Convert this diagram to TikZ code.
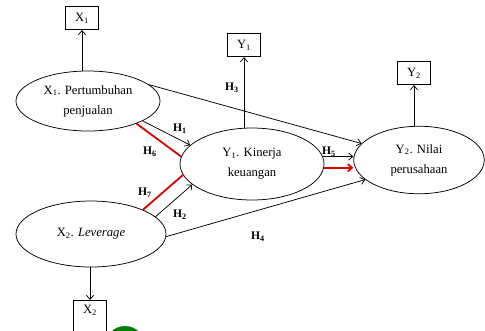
\documentclass[tikz,border=0pt]{standalone}
\usepackage{fontspec}
\setmainfont{Liberation Serif}
\usetikzlibrary{shapes.geometric, arrows.meta}

\begin{document}
\begin{tikzpicture}[x=1cm/30, y=-1cm/30,
    >={Straight Barb[length=1.4mm, width=2.4mm]},
    varnode/.style={ellipse, draw, line width=0.25mm, inner sep=0pt, align=center,
      font=\fontsize{12}{19}\selectfont},
    indbox/.style={draw, line width=0.25mm, inner sep=0pt, minimum width=1.1cm,
      minimum height=0.78cm, font=\fontsize{12}{13}\selectfont},
    hyp/.style={inner sep=0pt, font=\fontsize{11}{12}\selectfont\bfseries},
    link/.style={->, line width=0.25mm},
    redlink/.style={line width=0.6mm, red!85!black}]
  \useasboundingbox (0,0) rectangle (485,330);

  % Indicator boxes
  \node[indbox] (x1box) at (82,18) {X\textsubscript{1}};
  \node[indbox] (y1box) at (244,45) {Y\textsubscript{1}};
  \node[indbox] (y2box) at (414,73) {Y\textsubscript{2}};
  \node[indbox, anchor=north, text height=0.43cm, text depth=0.7cm] (x2box) at (90,300)
    {X\textsubscript{2}};

  % Latent variables
  \node[varnode, minimum width=4.8cm, minimum height=2cm] (x1) at (88,101)
    {X\textsubscript{1}. Pertumbuhan\\penjualan};
  \node[varnode, minimum width=4.8cm, minimum height=2.4cm] (y1) at (252,164)
    {Y\textsubscript{1}. Kinerja\\keuangan};
  \node[varnode, minimum width=4.35cm, minimum height=2.25cm] (y2) at (419,160)
    {Y\textsubscript{2}. Nilai\\perusahaan};
  \node[varnode, minimum width=5cm, minimum height=2.2cm] (x2) at (91,234)
    {X\textsubscript{2}. \textit{Leverage}};

  % Variable to indicator
  \draw[link] (x1box.south |- x1.north) -- (x1box.south);
  \draw[link] (y1box.south |- y1.north) -- (y1box.south);
  \draw[link] (y2box.south |- y2.north) -- (y2box.south);
  \draw[link] (x2.south -| x2box.north) -- (x2box.north);

  % Direct paths
  \draw[link] (x1.15) -- (y2.164);
  \draw[link] (x1.-20) -- (y1.163);
  \draw[link] (x2.15) -- (y1.199);
  \draw[link] (x2.-2) -- (y2.200);
  \draw[link] (y1.6) -- (y1.6 -| y2.west);

  % Mediated paths
  \draw[redlink] (x1.-25) -- (y1.174);
  \draw[redlink] (x2.25) -- (y1.189);
  \draw[redlink, ->] (y1.-3) -- (y1.-3 -| y2.west);

  % Hypotheses
  \node[hyp] (h1) at (180,129) {H\textsubscript{1}};
  \node[hyp] (h2) at (180,215) {H\textsubscript{2}};
  \node[hyp] (h3) at (232,88) {H\textsubscript{3}};
  \node[hyp] (h4) at (258,237) {H\textsubscript{4}};
  \node[hyp] (h5) at (329,152) {H\textsubscript{5}};
  \node[hyp] (h6) at (150,152) {H\textsubscript{6}};
  \node[hyp] (h7) at (145,193) {H\textsubscript{7}};

  % Mark at the bottom edge
  \begin{scope}
    \clip (0,0) rectangle (485,330);
    \fill[green!50!black] (125,346) circle (20*1cm/30);
  \end{scope}
\end{tikzpicture}
\end{document}
